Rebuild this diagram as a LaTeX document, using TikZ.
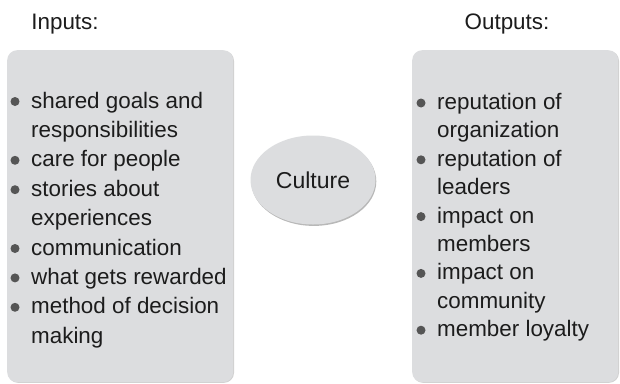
\documentclass[tikz,border=0pt]{standalone}
\usepackage{fontspec}
\setmainfont{Liberation Sans}
\usetikzlibrary{shapes.geometric,shadows}
\definecolor{boxfill}{HTML}{DCDDDF}
\definecolor{txtcol}{HTML}{1C1C1C}
\definecolor{bulcol}{HTML}{555555}
\begin{document}
\begin{tikzpicture}[x=1pt,y=-1pt,
  txt/.style={font=\fontsize{22.4}{26}\selectfont, text=txtcol, inner sep=0pt, anchor=base west},
  ttl/.style={font=\fontsize{22.4}{26}\selectfont, text=txtcol, inner sep=0pt, anchor=base},
  bul/.style={circle, fill=bulcol, inner sep=0pt, minimum size=9pt},
  panel/.style={rounded corners=10pt, fill=boxfill, draw=none, anchor=north west, inner sep=0pt,
    drop shadow={shadow xshift=0.8pt, shadow yshift=-0.6pt, fill=black, opacity=0.18}},
  oval/.style={ellipse, fill=boxfill, inner sep=0pt, minimum width=125pt, minimum height=89pt,
    font=\fontsize{23}{27}\selectfont, text=txtcol,
    drop shadow={shadow xshift=0.8pt, shadow yshift=-1.4pt, fill=black, opacity=0.28}}]
\useasboundingbox (0,0) rectangle (620,383);
\fill[white] (0,0) rectangle (620,383);
\clip (0,0) rectangle (620,383);
% panels
\node[panel, minimum width=226pt, minimum height=332pt] (inputs) at (7,50) {};
\node[panel, minimum width=206pt, minimum height=332pt] (outputs) at (412,50) {};
% titles
\node[ttl] (intitle) at (65,29) {Inputs:};
\node[ttl] (outtitle) at (507,29) {Outputs:};
% centre
\node[oval] (culture) at (313,180) {Culture};
% input list
\foreach \t [count=\i] in {shared goals and, responsibilities, care for people, stories about,
  experiences, communication, what gets rewarded, method of decision, making}{
  \node[txt] (in\i) at (31,{108+29.4*(\i-1)}) {\t};
}
\foreach \i in {1,3,4,6,7,8}{
  \node[bul] (inb\i) at (15,{101.5+29.4*(\i-1)}) {};
}
% output list
\foreach \t [count=\i] in {reputation of, organization, reputation of, leaders,
  impact on, members, impact on, community, member loyalty}{
  \node[txt] (out\i) at (437,{109.5+28.4*(\i-1)}) {\t};
}
\foreach \i in {1,3,5,7,9}{
  \node[bul] (outb\i) at (421,{103+28.4*(\i-1)}) {};
}
\end{tikzpicture}
\end{document}
